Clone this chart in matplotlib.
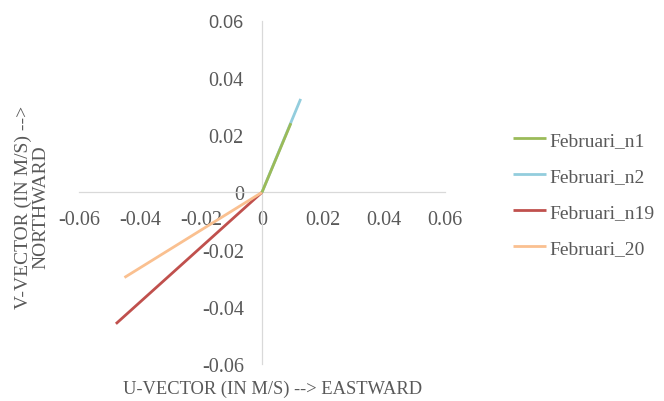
import matplotlib.pyplot as plt

# end points of each wind vector (u, v) in m/s
series = ['Februari_n1', 'Februari_n2', 'Februari_n19', 'Februari_20']
u_values = [[0, 0.0095], [0, 0.0127], [0, -0.0479], [0, -0.0451]]
v_values = [[0, 0.0242], [0, 0.0327], [0, -0.0460], [0, -0.0298]]
colors = ['#9bbb59', '#93cddd', '#c0504d', '#fac090']
ticks = [-0.06, -0.04, -0.02, 0, 0.02, 0.04, 0.06]
tick_labels = ['-0.06', '-0.04', '-0.02', '0', '0.02', '0.04', '0.06']

plt.rcParams['font.family'] = ['Liberation Serif', 'DejaVu Serif']
text_color = '#595959'

fig = plt.figure(figsize=(6.64, 4.02), dpi=100)
ax = fig.add_axes([0.119, 0.0925, 0.551, 0.853])

zorders = [4, 3, 3, 3]
for name, u, v, c, z in zip(series, u_values, v_values, colors, zorders):
    ax.plot(u, v, color=c, linewidth=2.0, label=name, solid_capstyle='butt', zorder=z)

ax.set_xlim(-0.06, 0.06)
ax.set_ylim(-0.06, 0.06)
ax.spines['left'].set_position('zero')
ax.spines['bottom'].set_position('zero')
ax.spines['top'].set_visible(False)
ax.spines['right'].set_visible(False)
for s in ['left', 'bottom']:
    ax.spines[s].set_color('#d9d9d9')
    ax.spines[s].set_linewidth(0.9)

ax.set_xticks(ticks)
ax.set_xticklabels(tick_labels)
ax.set_yticks(ticks)
ax.set_yticklabels(tick_labels)
ax.tick_params(length=0, labelsize=14.5, labelcolor=text_color, pad=13)

# top label renders in sans in the original
top = ax.get_yticklabels()[-1]
top.set_fontfamily('Liberation Sans')
top.set_fontsize(13)

fig.text(0.411, 0.031, 'U-VECTOR (IN M/S) --> EASTWARD', ha='center', va='center',
         fontsize=13.3, color=text_color)
fig.text(0.048, 0.485, 'V-VECTOR (IN M/S) -->\nNORTHWARD', ha='center', va='center',
         rotation=90, fontsize=14, color=text_color, linespacing=1.05)

leg = ax.legend(loc='center left', bbox_to_anchor=(0.7455, 0.514), bbox_transform=fig.transFigure,
                frameon=False, fontsize=14, handlelength=1.7, handletextpad=0.2,
                labelspacing=0.95)
for t in leg.get_texts():
    t.set_color(text_color)

fig.savefig('out.png', dpi=100)
